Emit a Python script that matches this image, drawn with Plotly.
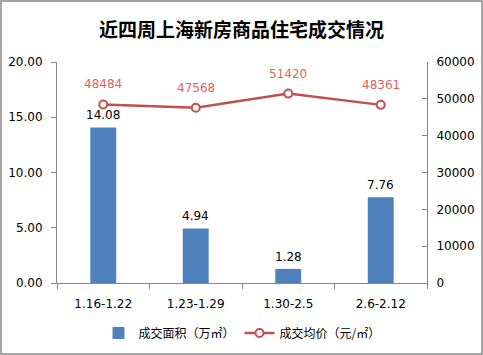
import plotly.graph_objects as go

categories = ["1.16-1.22", "1.23-1.29", "1.30-2.5", "2.6-2.12"]
area = [14.08, 4.94, 1.28, 7.76]
price = [48484, 47568, 51420, 48361]
area_name = "成交面积（万㎡）"
price_name = "成交均价（元/㎡）"
title_text = "近四周上海新房商品住宅成交情况"

num_font = "Tahoma, DejaVu Sans, sans-serif"
cjk_font = "Microsoft YaHei, Noto Sans CJK SC, sans-serif"

fig = go.Figure()
fig.add_trace(go.Bar(
    x=categories, y=area, name=area_name,
    marker=dict(color="#4F81BD", line=dict(width=0)),
    width=0.28,
))
fig.add_trace(go.Scatter(
    x=categories, y=price, name=price_name, yaxis="y2",
    mode="lines+markers",
    line=dict(color="#C0504D", width=2.5),
    marker=dict(symbol="circle", size=8, color="#FFFFFF",
                line=dict(color="#C0504D", width=2)),
))
for c, a in zip(categories, area):
    fig.add_annotation(x=c, y=a, xref="x", yref="y", text=f"{a:.2f}",
                       showarrow=False, yshift=12,
                       font=dict(family=num_font, size=12, color="#000000"))
for c, p in zip(categories, price):
    fig.add_annotation(x=c, y=p, xref="x", yref="y2", text=str(p),
                       showarrow=False, yshift=20,
                       font=dict(family=num_font, size=12, color="#E0625C"))

fig.update_layout(
    width=483, height=355,
    margin=dict(l=57, r=56, t=62, b=72, autoexpand=False),
    paper_bgcolor="#FFFFFF", plot_bgcolor="#FFFFFF",
    title=dict(text=f"<b>{title_text}</b>", x=0.5, xanchor="center",
               y=1 - 30 / 355, yanchor="middle",
               font=dict(family=cjk_font, size=19, color="#000000")),
    showlegend=True,
    legend=dict(orientation="h", x=0.5, xanchor="center", y=-50 / 221, yanchor="middle",
                font=dict(family=cjk_font, size=12, color="#000000"),
                itemwidth=30, tracegroupgap=0),
    xaxis=dict(type="category", showgrid=False, showline=True,
               linecolor="#868686", linewidth=1,
               ticks="outside", tickson="boundaries", ticklen=5, tickcolor="#868686",
               ticklabelstandoff=10,
               tickfont=dict(family=num_font, size=12, color="#000000")),
    yaxis=dict(range=[0, 20], dtick=5, tickformat=".2f", showgrid=False,
               showline=True, linecolor="#868686", linewidth=1,
               ticks="outside", ticklen=5, tickcolor="#868686", zeroline=False,
               ticklabelstandoff=6,
               tickfont=dict(family=num_font, size=12, color="#000000")),
    yaxis2=dict(range=[0, 60000], dtick=10000, tickformat="d", overlaying="y",
                side="right", showgrid=False, showline=True,
                linecolor="#868686", linewidth=1,
                ticks="inside", ticklen=5, tickcolor="#868686", zeroline=False,
                ticklabelstandoff=6,
                tickfont=dict(family=num_font, size=12, color="#000000")),
)
fig.add_shape(type="rect", xref="paper", yref="paper",
              x0=-56 / 370, x1=1 + 55 / 370, y0=-71 / 221, y1=1 + 61 / 221,
              line=dict(color="#888888", width=1.5), fillcolor="rgba(0,0,0,0)",
              layer="above")
fig.write_html("out.html", config={"displayModeBar": False},
               post_script="document.body.style.margin='0';")
